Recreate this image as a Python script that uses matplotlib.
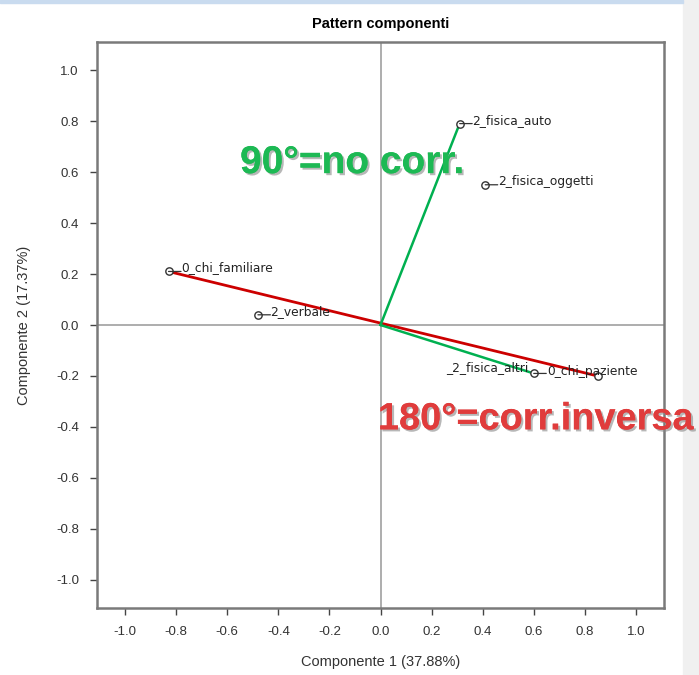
import matplotlib.pyplot as plt
import matplotlib.patheffects as pe
from matplotlib.patches import Rectangle

# loadings
variabili = ["2_fisica_auto", "2_fisica_oggetti", "0_chi_familiare",
             "2_verbale", "2_fisica_altri", "0_chi_paziente"]
comp1 = [0.31, 0.41, -0.83, -0.48, 0.60, 0.85]
comp2 = [0.79, 0.55, 0.21, 0.04, -0.19, -0.20]

ticks = [-1.0, -0.8, -0.6, -0.4, -0.2, 0.0, 0.2, 0.4, 0.6, 0.8, 1.0]

plt.rcParams['font.family'] = ['Liberation Sans', 'DejaVu Sans']

fig = plt.figure(figsize=(6.99, 6.75), dpi=100)
# grey strip on the right and thin blue line at the top (screenshot frame)
fig.patches.append(Rectangle((683 / 699, 0), 1, 1, transform=fig.transFigure,
                             color='#f0f0f0', zorder=-5))
fig.patches.append(Rectangle((0, 1 - 3 / 675), 683 / 699, 3 / 675,
                             transform=fig.transFigure, color='#c9dbef', zorder=-5))

ax = fig.add_axes([97 / 699, 67 / 675, 567 / 699, 566 / 675])
ax.set_xlim(-1.11, 1.11)
ax.set_ylim(-1.11, 1.11)

ax.axhline(0, color='#a0a0a0', lw=1.2, zorder=1)
ax.axvline(0, color='#a0a0a0', lw=1.2, zorder=1)

# vettori
i_fam = variabili.index("0_chi_familiare")
i_paz = variabili.index("0_chi_paziente")
i_alt = variabili.index("2_fisica_altri")
ax.plot([comp1[i_fam], comp1[i_paz]], [comp2[i_fam], comp2[i_paz]],
        color='#cc0000', lw=2, zorder=2)
for nome in ["2_fisica_auto", "2_fisica_altri"]:
    i = variabili.index(nome)
    ax.plot([0, comp1[i]], [0, comp2[i]], color='#00b050', lw=1.8, zorder=2)

ax.scatter(comp1, comp2, s=28, facecolor='white', edgecolor='#333333',
           lw=1, zorder=3)

# etichette con trattino
etich = dict(fontsize=8.8, color='#222222', family=['DejaVu Sans'])
trattino = dict(arrowstyle='-', lw=0.9, color='#333333', shrinkA=0, shrinkB=0)
for nome, x, y in zip(variabili, comp1, comp2):
    if nome == "2_fisica_altri":
        ax.annotate("_" + nome, xy=(x, y), xytext=(-4, 2), textcoords='offset points',
                    ha='right', va='baseline', **etich)
        ax.annotate("", xy=(x, y), xytext=(9, 0), textcoords='offset points',
                    arrowprops=trattino)
    elif nome == "0_chi_paziente":
        ax.annotate(nome, xy=(x, y), xytext=(-36, 1), textcoords='offset points',
                    ha='left', va='baseline', **etich)
    else:
        ax.annotate(nome, xy=(x, y), xytext=(9, 0), textcoords='offset points',
                    ha='left', va='baseline', **etich)
        ax.annotate("", xy=(x, y), xytext=(9, 0), textcoords='offset points',
                    arrowprops=trattino)

ombra = [pe.withSimplePatchShadow(offset=(1.5, -1.5), shadow_rgbFace='#888888',
                                  alpha=0.6), pe.Normal()]
ax.text(-0.55, 0.635, "90°=no corr.", color='#1db954', fontsize=28,
        fontweight='bold', ha='left', va='center', path_effects=ombra, zorder=5)
ax.text(-0.01, -0.37, "180°=corr.inversa", color='#e03c3c', fontsize=27.3,
        fontweight='bold', ha='left', va='center', path_effects=ombra,
        zorder=5, clip_on=False)

ax.set_xticks(ticks)
ax.set_yticks(ticks)
ax.set_xticklabels([f"{t:.1f}" for t in ticks])
ax.set_yticklabels([f"{t:.1f}" for t in ticks])
ax.tick_params(direction='out', length=5, width=1, color='#444444',
               labelsize=9.5, labelcolor='#333333', pad=8)
for sp in ax.spines.values():
    sp.set_color('#7a7a7a')
    sp.set_linewidth(1.8)

ax.set_title("Pattern componenti", fontsize=10.5, fontweight='bold', pad=10)
ax.set_xlabel("Componente 1 (37.88%)", fontsize=10.5, color='#333333', labelpad=12)
ax.set_ylabel("Componente 2 (17.37%)", fontsize=10.5, color='#333333', labelpad=18)

fig.savefig("out.png", dpi=100)
